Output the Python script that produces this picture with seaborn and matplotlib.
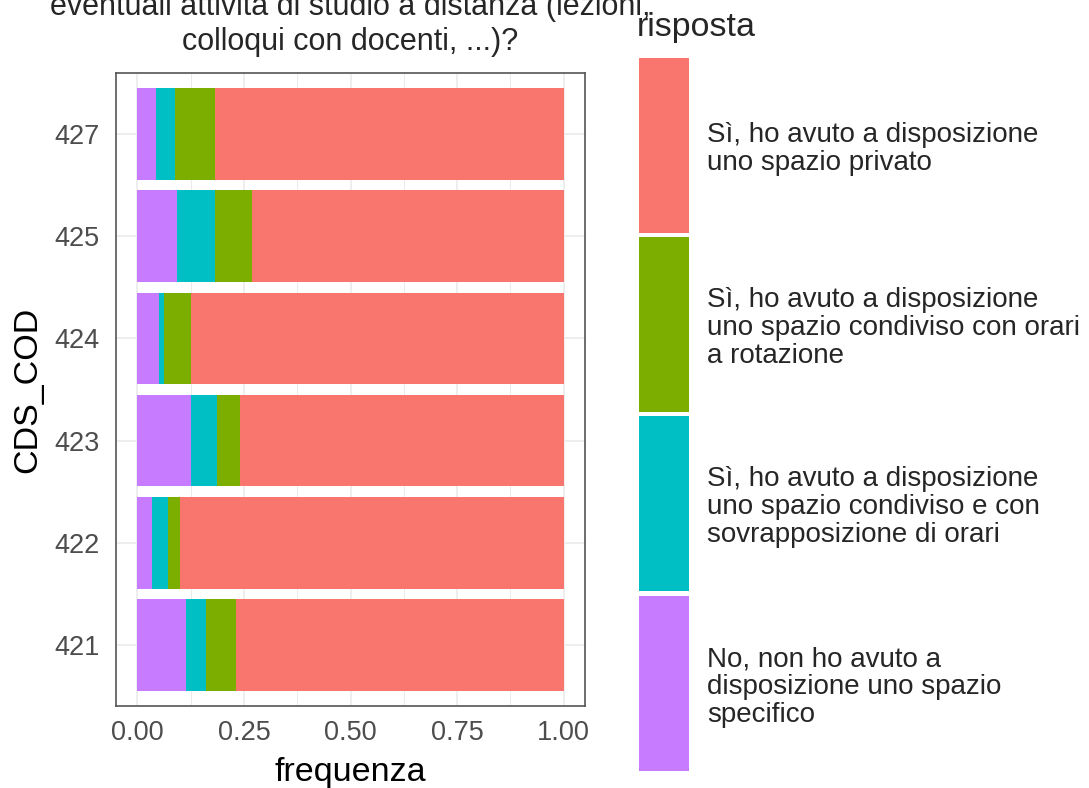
import matplotlib
matplotlib.use("Agg")
import matplotlib.pyplot as plt
from matplotlib.patches import Rectangle
from matplotlib.ticker import MultipleLocator
import seaborn as sns
import pandas as pd

# ------------------------------
# Data (share of answers per CDS)
# ------------------------------
cds_order = ["427", "425", "424", "423", "422", "421"]

risposte = [
    "Sì, ho avuto a disposizione\nuno spazio privato",
    "Sì, ho avuto a disposizione\nuno spazio condiviso con orari\na rotazione",
    "Sì, ho avuto a disposizione\nuno spazio condiviso e con\nsovrapposizione di orari",
    "No, non ho avuto a\ndisposizione uno spazio\nspecifico",
]
colori = ["#F8766D", "#7CAE00", "#00BFC4", "#C77CFF"]

no_spazio = [0.044, 0.094, 0.050, 0.126, 0.034, 0.115]
condiviso_sovrapp = [0.044, 0.088, 0.012, 0.061, 0.038, 0.045]
condiviso_rotaz = [0.094, 0.087, 0.065, 0.055, 0.027, 0.071]
privato = [0.818, 0.731, 0.873, 0.758, 0.901, 0.769]

df = pd.DataFrame({
    "CDS_COD": cds_order,
    "no": no_spazio,
    "sovrapp": condiviso_sovrapp,
    "rotaz": condiviso_rotaz,
    "privato": privato,
})
# cumulative ends for position="fill" stacking
df["c1"] = df["no"]
df["c2"] = df["c1"] + df["sovrapp"]
df["c3"] = df["c2"] + df["rotaz"]
df["c4"] = df["c3"] + df["privato"]

sns.set_theme(style="white")
plt.rcParams["font.family"] = ["Liberation Sans", "DejaVu Sans"]

fig = plt.figure(figsize=(10.89, 7.88), dpi=100)
ax = fig.add_axes([116 / 1089, 1 - 706 / 788, 469 / 1089, 633 / 788])

# draw from the right end backwards so every segment is visible
for col, colore in zip(["c4", "c3", "c2", "c1"], colori):
    sns.barplot(data=df, x=col, y="CDS_COD", order=cds_order, color=colore,
                orient="h", width=0.9, errorbar=None, linewidth=0,
                saturation=1, ax=ax)

ax.set_xlim(-0.05, 1.05)
ax.set_ylim(5.6, -0.6)
ax.set_xticks([0, 0.25, 0.5, 0.75, 1.0])
ax.set_xticklabels(["0.00", "0.25", "0.50", "0.75", "1.00"])
ax.xaxis.set_minor_locator(MultipleLocator(0.125))
ax.set_axisbelow(True)
ax.grid(True, which="major", color="#EBEBEB", linewidth=1.2)
ax.grid(True, which="minor", axis="x", color="#EBEBEB", linewidth=0.7)

ax.tick_params(which="major", length=6, width=1.3, color="#4D4D4D",
               labelcolor="#4D4D4D", labelsize=19.5, pad=4)
ax.tick_params(which="minor", length=0)
ax.tick_params(axis="y", pad=6)
for s in ax.spines.values():
    s.set_color("#555555")
    s.set_linewidth(1.2)

ax.set_xlabel("frequenza", fontsize=24.5, color="black", labelpad=8)
ax.set_ylabel("CDS_COD", fontsize=24.5, color="black", labelpad=8)

# title (upper part falls outside the figure, as in the original)
fig.text(350.5 / 1089, 1 - 50 / 788, "colloqui con docenti, ...)?", ha="center",
         va="baseline", fontsize=22)
fig.text(350.5 / 1089, 1 - 15 / 788, "eventuali attività di studio a distanza (lezioni,",
         ha="center", va="baseline", fontsize=22)

# legend
fig.text(637 / 1089, 1 - 36 / 788, "risposta", ha="left", va="baseline",
         fontsize=24.5)
key_tops = [58, 237, 416, 596]
for top, colore, lab in zip(key_tops, colori, risposte):
    h = 175
    fig.add_artist(Rectangle((639 / 1089, 1 - (top + h) / 788), 50 / 1089, h / 788,
                             transform=fig.transFigure, facecolor=colore,
                             edgecolor="none"))
    fig.text(707 / 1089, 1 - (top + h / 2 + 4) / 788, lab, ha="left",
             va="center", fontsize=20, linespacing=1.1)

fig.savefig("out.png", dpi=100)
